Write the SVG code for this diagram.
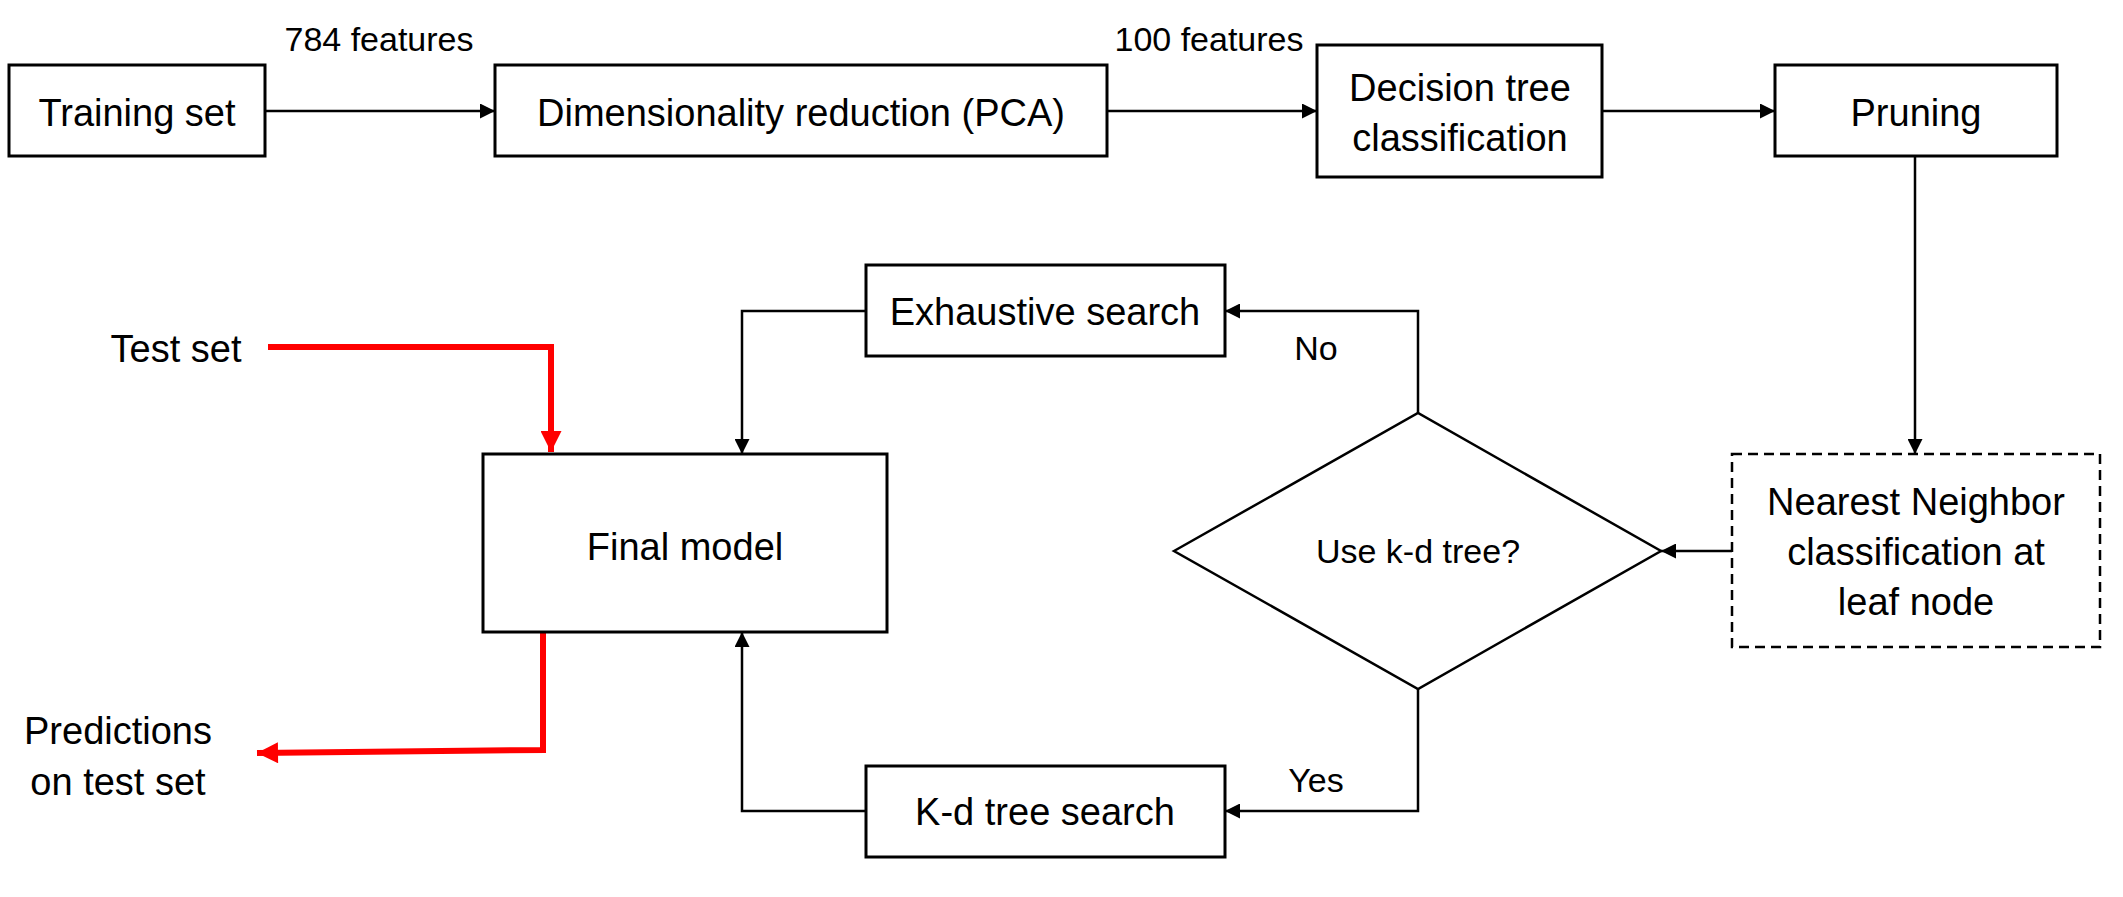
<svg xmlns="http://www.w3.org/2000/svg" width="2123" height="897" viewBox="0 0 2123 897">
<style>
.box{fill:#fff;stroke:#000;stroke-width:3}
.dash{fill:#fff;stroke:#000;stroke-width:2.5;stroke-dasharray:10 6}
.t{font-family:"Liberation Sans",Arial,sans-serif;font-size:38px;fill:#000;text-anchor:middle}
.s{font-family:"Liberation Sans",Arial,sans-serif;font-size:34px;fill:#000;text-anchor:middle}
.c{fill:none;stroke:#000;stroke-width:2.5}
.r{fill:none;stroke:#f00;stroke-width:6}
</style>
<defs>
<marker id="a" viewBox="0 0 10 10" refX="10" refY="5" markerWidth="6" markerHeight="6" markerUnits="strokeWidth" orient="auto"><path d="M0,0L10,5L0,10z" fill="#000"/></marker>
<marker id="ar" viewBox="0 0 10 10" refX="10" refY="5" markerWidth="4" markerHeight="3.5" markerUnits="strokeWidth" orient="auto"><path d="M0,0L10,5L0,10z" fill="#f00"/></marker>
</defs>
<g id="connectors">
<line class="c" x1="265" y1="111" x2="495" y2="111" marker-end="url(#a)"/>
<line class="c" x1="1107" y1="111" x2="1317" y2="111" marker-end="url(#a)"/>
<line class="c" x1="1602" y1="111" x2="1775" y2="111" marker-end="url(#a)"/>
<line class="c" x1="1915" y1="156" x2="1915" y2="454" marker-end="url(#a)"/>
<line class="c" x1="1732" y1="551" x2="1661" y2="551" marker-end="url(#a)"/>
<polyline class="c" points="1418,413 1418,311 1225,311" marker-end="url(#a)"/>
<polyline class="c" points="1418,689 1418,811 1225,811" marker-end="url(#a)"/>
<polyline class="c" points="866,311 742,311 742,454" marker-end="url(#a)"/>
<polyline class="c" points="866,811 742,811 742,632" marker-end="url(#a)"/>
<polyline class="r" points="268,347 551,347 551,452" marker-end="url(#ar)"/>
<polyline class="r" points="543,632 543,750 257,753" marker-end="url(#ar)"/>
<text class="s" x="379" y="51">784 features</text>
<text class="s" x="1209" y="51">100 features</text>
<text class="s" x="1316" y="360">No</text>
<text class="s" x="1316" y="792">Yes</text>
</g>
<g id="training"><rect class="box" x="9" y="65" width="256" height="91"/><text class="t" x="137" y="126">Training set</text></g>
<g id="pca"><rect class="box" x="495" y="65" width="612" height="91"/><text class="t" x="801" y="126">Dimensionality reduction (PCA)</text></g>
<g id="dtree"><rect class="box" x="1317" y="45" width="285" height="132"/><text class="t" x="1460" y="101">Decision tree</text><text class="t" x="1460" y="151">classification</text></g>
<g id="pruning"><rect class="box" x="1775" y="65" width="282" height="91"/><text class="t" x="1916" y="126">Pruning</text></g>
<g id="nn"><rect class="dash" x="1732" y="454" width="368" height="193"/><text class="t" x="1916" y="515">Nearest Neighbor</text><text class="t" x="1916" y="565">classification at</text><text class="t" x="1916" y="615">leaf node</text></g>
<g id="decision"><polygon points="1174,551 1418,413 1661,551 1418,689" fill="#fff" stroke="#000" stroke-width="2.5"/><text class="s" x="1418" y="563">Use k-d tree?</text></g>
<g id="exhaustive"><rect class="box" x="866" y="265" width="359" height="91"/><text class="t" x="1045" y="325">Exhaustive search</text></g>
<g id="kdsearch"><rect class="box" x="866" y="766" width="359" height="91"/><text class="t" x="1045" y="825">K-d tree search</text></g>
<g id="final"><rect class="box" x="483" y="454" width="404" height="178"/><text class="t" x="685" y="560">Final model</text></g>
<g id="testset"><text class="t" x="176" y="362">Test set</text></g>
<g id="predictions"><text class="t" x="118" y="744">Predictions</text><text class="t" x="118" y="795">on test set</text></g>
</svg>
